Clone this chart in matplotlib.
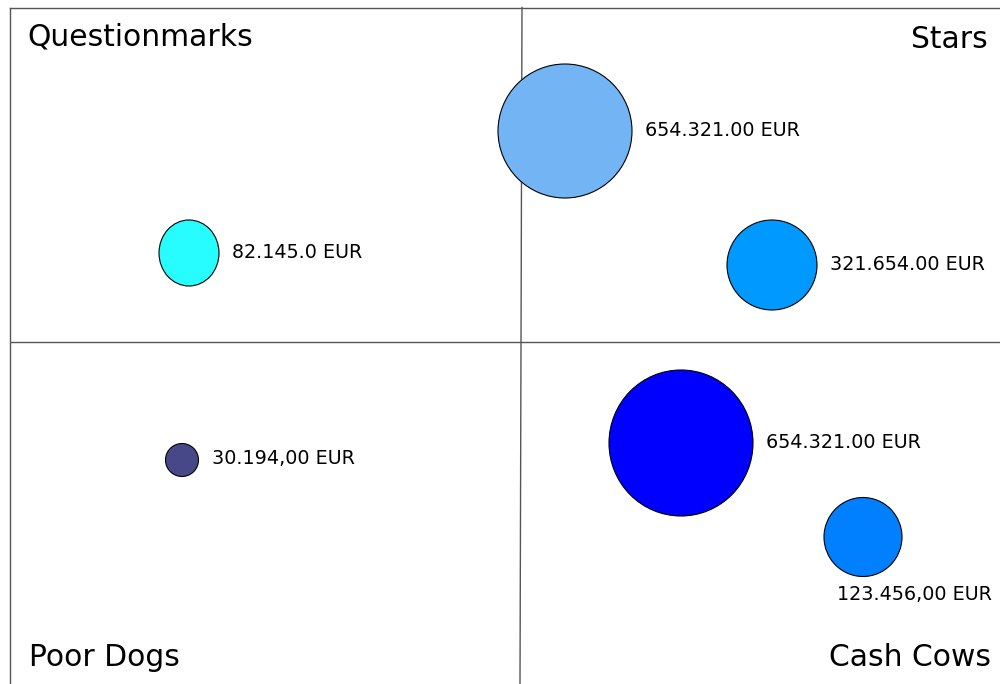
"""
Portfolio matrix: four quadrants with revenue bubbles per product.
"""
import matplotlib
matplotlib.use("Agg")
import matplotlib.pyplot as plt
from matplotlib.patches import Ellipse

# ── Products (share / growth in canvas units, bubble extents, revenue) ─────
share   = [565, 772, 189, 681, 863, 182]
growth  = [131, 265, 253, 443, 537, 460]
width   = [134, 90, 60, 144, 78, 33]
height  = [134, 90, 66, 146, 79, 33]
revenue = ["654.321.00 EUR", "321.654.00 EUR", "82.145.0 EUR",
           "654.321.00 EUR", "123.456,00 EUR", "30.194,00 EUR"]
colors  = ["#72B4F4", "#0099FF", "#27FDFF", "#0000FF", "#007FFF", "#464887"]

quadrants = ["Questionmarks", "Stars", "Poor Dogs", "Cash Cows"]

LINE = "#555555"

fig = plt.figure(figsize=(10, 6.84), dpi=100)
fig.patch.set_facecolor("white")
ax = fig.add_axes([0, 0, 1, 1])
ax.set_xlim(0, 1000)
ax.set_ylim(684, 0)
ax.axis("off")

# frame and quadrant dividers
ax.plot([9.5, 9.5], [7.5, 684], color=LINE, lw=1.0)
ax.plot([9.5, 1000], [7.5, 7.5], color=LINE, lw=1.0)
ax.plot([11, 1000], [342, 342], color=LINE, lw=1.0)
ax.plot([522, 520], [7.5, 684], color=LINE, lw=1.0)

# bubbles with revenue labels
for i, (x, y, w, h, c, txt) in enumerate(zip(share, growth, width, height,
                                              colors, revenue)):
    ax.add_patch(Ellipse((x, y), w, h, facecolor=c, edgecolor="black",
                         lw=0.8, zorder=3))
    if i == 4:
        ax.text(x - 26, y + h / 2 + 18, txt, fontsize=13.8,
                ha="left", va="center", color="black")
    else:
        ax.text(x + w / 2 + 13, y - 1, txt, fontsize=13.8,
                ha="left", va="center", color="black")

# quadrant titles
ax.text(27, 37, quadrants[0], fontsize=21.4, ha="left", va="center")
ax.text(988, 39, quadrants[1], fontsize=21.4, ha="right", va="center")
ax.text(29, 657, quadrants[2], fontsize=21.4, ha="left", va="center")
ax.text(991, 657, quadrants[3], fontsize=21.4, ha="right", va="center")

fig.savefig("out.png", dpi=100, facecolor="white")
